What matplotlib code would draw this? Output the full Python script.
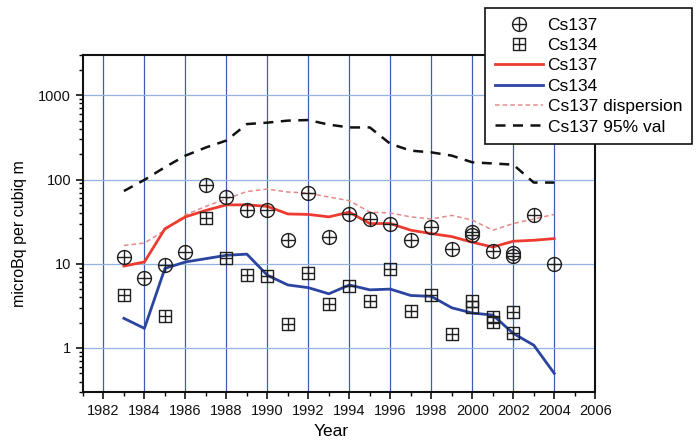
import numpy as np
import matplotlib
matplotlib.use('Agg')
import matplotlib.pyplot as plt
from matplotlib.path import Path
from matplotlib.ticker import FixedLocator, FixedFormatter, LogLocator, NullFormatter

plt.rcParams['font.family'] = ['Liberation Sans', 'DejaVu Sans']

# measured points
cs137_years = [1983, 1984, 1985, 1986, 1987, 1988, 1989, 1990, 1991, 1992, 1993, 1994,
               1995, 1996, 1997, 1998, 1999, 2000, 2000, 2001, 2002, 2002, 2003, 2004]
cs137_vals = [12.0, 6.8, 9.6, 13.8, 87, 62, 44, 44, 19, 69, 21, 39,
              34, 30, 19, 27, 15, 24, 22, 14.2, 13.5, 12.3, 37.5, 10]

cs134_years = [1983, 1985, 1987, 1988, 1989, 1990, 1991, 1992, 1993, 1994, 1995, 1996,
               1997, 1998, 1999, 2000, 2000, 2001, 2001, 2002, 2002]
cs134_vals = [4.2, 2.4, 35, 11.8, 7.3, 7.1, 1.92, 7.8, 3.3, 5.4, 3.6, 8.6,
              2.74, 4.3, 1.47, 3.6, 3.1, 2.35, 2.05, 2.7, 1.49]

# fitted curves
years = list(range(1983, 2005))
cs137_line = [9.4, 10.5, 26, 36, 43, 50, 50, 48, 39, 38.5, 36, 41,
              30, 30, 25, 22.8, 21, 18, 15.8, 18.5, 19, 19.9]
cs134_line = [2.25, 1.71, 8.8, 10.5, 11.5, 12.6, 13, 7.3, 5.6, 5.2, 4.4, 5.6,
              4.9, 5.0, 4.2, 4.1, 3.0, 2.6, 2.46, 1.49, 1.08, 0.50]
cs137_disp = [16.5, 17.6, 25, 38, 48, 59, 72, 77, 71, 69, 62, 56,
              41, 40, 36, 34, 37.5, 33, 25, 30, 34, 38.5]
cs137_95 = [73, 99, 140, 192, 240, 290, 455, 473, 500, 508, 448, 415,
            415, 265, 220, 210, 192, 160, 155, 150, 92, 92]

# marker shapes: circle with cross, square with cross
cross = Path([(-1, 0), (1, 0), (0, -1), (0, 1)],
             [Path.MOVETO, Path.LINETO, Path.MOVETO, Path.LINETO])
circ_plus = Path.make_compound_path(Path.unit_circle(), cross)
square = Path([(-1, -1), (1, -1), (1, 1), (-1, 1), (-1, -1)],
              [Path.MOVETO, Path.LINETO, Path.LINETO, Path.LINETO, Path.CLOSEPOLY])
square_plus = Path.make_compound_path(square, cross)

fig = plt.figure(figsize=(6.97, 4.44), dpi=100)
ax = fig.add_axes([0.119, 0.117, 0.735, 0.759])

ax.plot(cs137_years, cs137_vals, linestyle='none', marker=circ_plus, markersize=10,
        mfc='none', mec='#202020', mew=1.0, label='Cs137', zorder=5)
ax.plot(cs134_years, cs134_vals, linestyle='none', marker=square_plus, markersize=8.5,
        mfc='none', mec='#202020', mew=1.0, label='Cs134', zorder=5)
ax.plot(years, cs137_line, color='#ee3b30', lw=2.0, label='Cs137', zorder=4)
ax.plot(years, cs134_line, color='#2a44a0', lw=2.0, label='Cs134', zorder=4)
ax.plot(years, cs137_disp, color='#e88a8a', lw=1.1, ls=(0, (3, 2)),
        label='Cs137 dispersion', zorder=3)
ax.plot(years, cs137_95, color='#111111', lw=1.8, ls=(0, (4, 3)),
        label='Cs137 95% val', zorder=3)

ax.set_yscale('log')
ax.set_xlim(1981, 2006)
ax.set_ylim(0.3, 3000)

ax.xaxis.set_major_locator(FixedLocator(list(range(1982, 2007, 2))))
ax.xaxis.set_minor_locator(FixedLocator(list(range(1981, 2007, 1))))
ax.yaxis.set_major_locator(FixedLocator([1, 10, 100, 1000]))
ax.yaxis.set_major_formatter(FixedFormatter(['1', '10', '100', '1000']))
ax.yaxis.set_minor_locator(LogLocator(base=10, subs=np.arange(2, 10)))
ax.yaxis.set_minor_formatter(NullFormatter())

ax.tick_params(axis='both', which='major', direction='out', length=5, width=1.2,
               labelsize=10.5, colors='#111111')
ax.tick_params(axis='both', which='minor', direction='out', length=3, width=1.0)
ax.tick_params(top=False, right=False, which='both')

# grid: vertical every 2 years (darker), horizontal per decade (lighter)
for yr in range(1982, 2005, 2):
    ax.axvline(yr, color='#3d5fb3', lw=0.9, zorder=1)
for v in [1, 10, 100, 1000]:
    ax.axhline(v, color='#93b3e3', lw=0.9, zorder=1)

for s in ax.spines.values():
    s.set_linewidth(1.5)
    s.set_color('#111111')

ax.set_xlabel('Year', fontsize=12.5)
ax.xaxis.set_label_coords(0.485, -0.095)
ax.set_ylabel('microBq per cubiq m', fontsize=11.5)
ax.yaxis.set_label_coords(-0.11, 0.47)

leg = ax.legend(loc='upper left', bbox_to_anchor=(485 / 697, 1 - 8 / 444),
                bbox_transform=fig.transFigure,
                fontsize=12.5, frameon=True, fancybox=False, framealpha=1,
                edgecolor='#111111', labelspacing=0.3, handlelength=2.8,
                handletextpad=0.25, borderpad=0.55, borderaxespad=0)
leg.get_frame().set_linewidth(1.2)
leg.set_zorder(10)

plt.savefig('out.png', dpi=100)
